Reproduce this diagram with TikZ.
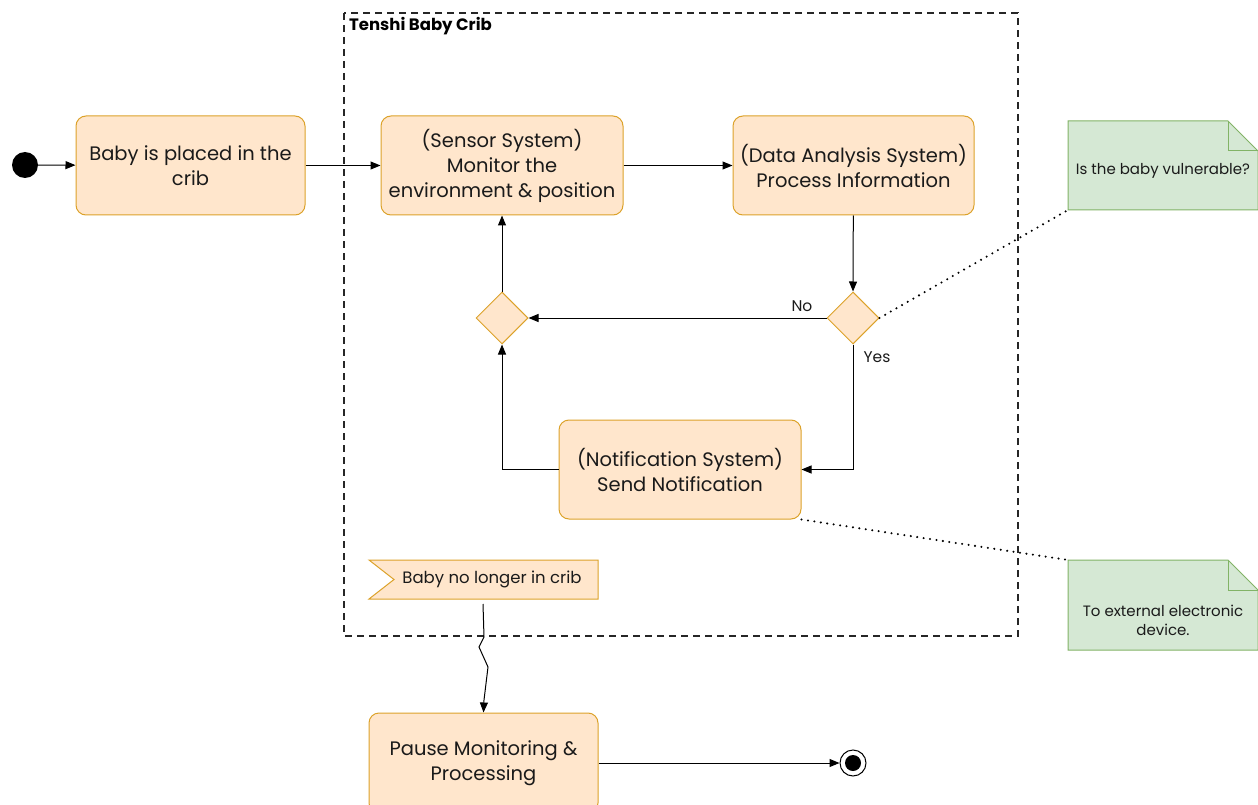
\documentclass[tikz,border=0pt]{standalone}
\usepackage{fontspec}
\setmainfont{Poppins}
\usetikzlibrary{arrows.meta,shapes.geometric}
\definecolor{boxfill}{HTML}{FFE6CC}
\definecolor{boxdraw}{HTML}{DCA22A}
\definecolor{notefill}{HTML}{D5E8D4}
\definecolor{notedraw}{HTML}{82B366}
\definecolor{txt}{HTML}{1A1A1A}
\tikzset{
  actbox/.style={draw=boxdraw, fill=boxfill, rounded corners=10pt, line width=1pt, align=center, text=txt, font=\fontsize{19.5}{25}\selectfont, inner sep=0pt},
  decbox/.style={diamond, draw=boxdraw, fill=boxfill, line width=1pt, minimum width=52pt, minimum height=52pt, inner sep=0pt},
  flow/.style={line width=1pt, -{Triangle[length=10pt,width=8pt]}},
  notetxt/.style={align=center, text=txt, font=\fontsize{15}{19}\selectfont},
  notepath/.style={draw=notedraw, fill=notefill, line width=1pt},
  dotline/.style={line width=2.3pt, line cap=round, dash pattern=on 0pt off 6.5pt},
  lbl/.style={text=txt, font=\fontsize{15.5}{18}\selectfont, inner sep=0pt}
}
\begin{document}
\begin{tikzpicture}[x=1pt,y=-1pt]
\useasboundingbox (0,0) rectangle (1258,805);
\clip (0,0) rectangle (1258,805);
% frame
\draw[line width=2pt, dash pattern=on 7pt off 5pt, color=black!85] (344,13) rectangle (1018,636);
\node[anchor=north west, inner sep=0pt, text=black, font=\bfseries\fontsize{16.5}{18}\selectfont] (title) at (349,17) {Tenshi Baby Crib};
% start
\node[circle, fill=black, minimum size=26pt, inner sep=0pt] (start) at (25,165) {};
% boxes
\node[actbox, minimum width=229pt, minimum height=99pt] (b1) at (190.5,165.5) {Baby is placed in the\\crib};
\node[actbox, minimum width=242pt, minimum height=99pt] (b2) at (502,165.5) {(Sensor System)\\Monitor the\\environment \& position};
\node[actbox, minimum width=241pt, minimum height=99pt] (b3) at (853.5,165.5) {(Data Analysis System)\\Process Information};
\node[actbox, minimum width=242pt, minimum height=99pt] (b4) at (680,469.5) {(Notification System)\\Send Notification};
\node[actbox, minimum width=229pt, minimum height=100pt] (b5) at (483.5,763) {Pause Monitoring \&\\Processing};
% diamonds
\node[decbox] (dr) at (853,318) {};
\node[decbox] (dl) at (502,318) {};
% end
\node[circle, draw=black, line width=1pt, fill=white, minimum size=26pt, inner sep=0pt] (end) at (853,763) {};
\node[circle, fill=black, minimum size=16pt, inner sep=0pt] (endin) at (end) {};
% flag
\draw[draw=boxdraw, fill=boxfill, line width=1pt] (369,560) -- (598,560) -- (598,599) -- (369,599) -- (394,579.5) -- cycle;
\node[text=txt, font=\fontsize{16.5}{18}\selectfont, inner sep=0pt] (flag) at (492,579.5) {Baby no longer in crib};
\coordinate (flagb) at (483,604);
% notes
\draw[notepath] (1068,121) -- (1228,121) -- (1258,151) -- (1258,210) -- (1068,210) -- cycle;
\draw[notedraw, line width=1pt] (1228,121) -- (1228,151) -- (1258,151);
\node[notetxt] (n1) at (1163,171) {Is the baby vulnerable?};
\coordinate (n1c) at (1068,210);
\draw[notepath] (1068,560) -- (1228,560) -- (1258,590) -- (1258,650) -- (1068,650) -- cycle;
\draw[notedraw, line width=1pt] (1228,560) -- (1228,590) -- (1258,590);
\node[notetxt] (n2) at (1163,620) {To external electronic\\device.};
\coordinate (n2c) at (1068,560);
% connectors
\draw[flow] (start) -- (b1);
\draw[flow] (b1) -- (b2);
\draw[flow] (b2) -- (b3);
\draw[flow] (b3) -- (dr.north);
\draw[flow] (dr.west) -- (dl.east);
\draw[flow] (dr.south) |- (b4.east);
\draw[flow] (b4.west) -| (dl.south);
\draw[flow] (dl.north) -- (b2.south);
\draw[flow] (flagb) -- (484,637) -- (479,647) -- (488,667) -- (484,700) -- (b5.north);
\draw[flow] (b5) -- (end);
\node[lbl] (no) at (802,306) {No};
\node[lbl] (yes) at (877,357) {Yes};
\draw[dotline] (dr.east) -- (n1c);
\draw[dotline] (b4.south east) -- (n2c);
\end{tikzpicture}
\end{document}
